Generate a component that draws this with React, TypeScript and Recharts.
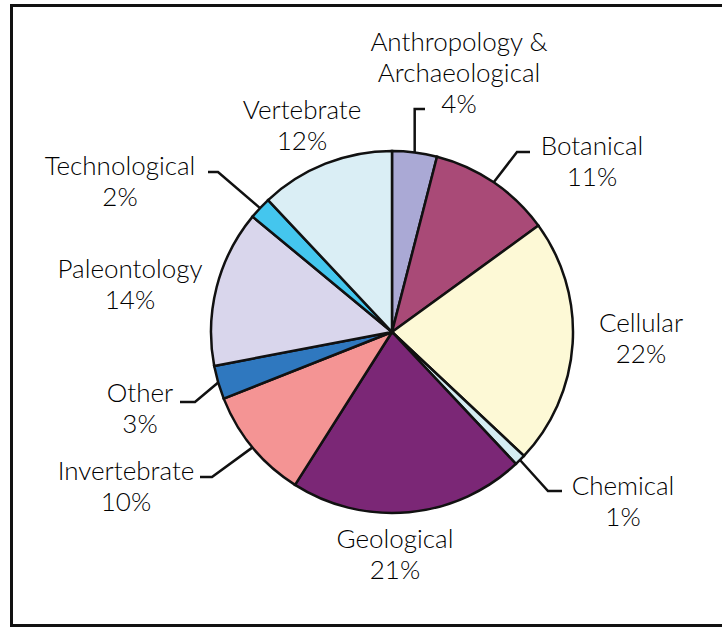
import React from 'react';
import { PieChart, Pie, Cell } from 'recharts';

// slice order runs clockwise from 12 o'clock
const categories = [
  'Anthropology & Archaeological',
  'Botanical',
  'Cellular',
  'Chemical',
  'Geological',
  'Invertebrate',
  'Other',
  'Paleontology',
  'Technological',
  'Vertebrate',
];
const shares = [4, 11, 22, 1, 21, 10, 3, 14, 2, 12];
const labelLines = [
  ['Anthropology &', 'Archaeological', '4%'],
  ['Botanical', '11%'],
  ['Cellular', '22%'],
  ['Chemical', '1%'],
  ['Geological', '21%'],
  ['Invertebrate', '10%'],
  ['Other', '3%'],
  ['Paleontology', '14%'],
  ['Technological', '2%'],
  ['Vertebrate', '12%'],
];
const colors = [
  '#aaa9d5',
  '#a94a77',
  '#fdf9d6',
  '#d4ecf2',
  '#7b2776',
  '#f49494',
  '#2f78bf',
  '#d9d6ec',
  '#44c6ee',
  '#daeef5',
];

const data = categories.map((name, i) => ({ name, value: shares[i] }));

// label placement relative to pie centre: text centre x / first baseline y,
// optional leader (elbow + end). elbow x null = straight up from the arc.
type Layout = {
  tx: number;
  ty: number;
  leader?: { ex: number | null; ey: number; hx: number };
};
const labelLayout: Layout[] = [
  { tx: 67, ty: -281, leader: { ex: null, ey: -223, hx: 33 } },
  { tx: 200, ty: -177, leader: { ex: 125, ey: -180, hx: 138 } },
  { tx: 249, ty: 0 },
  { tx: 231, ty: 163, leader: { ex: 156, ey: 159, hx: 170 } },
  { tx: 3, ty: 216 },
  { tx: -266, ty: 148, leader: { ex: -180, ey: 145, hx: -192 } },
  { tx: -252, ty: 70, leader: { ex: -197, ey: 70, hx: -212 } },
  { tx: -262, ty: -54 },
  { tx: -272, ty: -157, leader: { ex: -174, ey: -160, hx: -184 } },
  { tx: -90, ty: -213 },
];

const RAD = Math.PI / 180;
const FONT = 'Lato, "Open Sans", sans-serif';

const renderLabel = (props: any) => {
  const { cx, cy, midAngle, outerRadius, index } = props;
  const lay = labelLayout[index];
  const lines = labelLines[index];
  let leader = null;
  if (lay.leader) {
    const sx = cx + outerRadius * Math.cos(-midAngle * RAD);
    const sy = cy + outerRadius * Math.sin(-midAngle * RAD);
    const ex = lay.leader.ex === null ? sx : cx + lay.leader.ex;
    const ey = cy + lay.leader.ey;
    const hx = cx + lay.leader.hx;
    leader = (
      <polyline
        points={`${sx},${sy} ${ex},${ey} ${hx},${ey}`}
        fill="none"
        stroke="#111"
        strokeWidth={2.5}
      />
    );
  }
  return (
    <g key={`lbl-${index}`}>
      {leader}
      <text
        x={cx + lay.tx}
        y={cy + lay.ty}
        textAnchor="middle"
        fontFamily={FONT}
        fontWeight={300}
        fontSize={26}
        fill="#000"
      >
        {lines.map((ln, j) => (
          <tspan key={j} x={cx + lay.tx} dy={j === 0 ? 0 : 31}>
            {ln}
          </tspan>
        ))}
      </text>
    </g>
  );
};

export default function App() {
  return (
    <div
      style={{
        position: 'fixed',
        left: 0,
        top: 0,
        width: 722,
        height: 630,
        overflow: 'hidden',
        background: '#fff',
      }}
    >
      <div
        style={{
          position: 'absolute',
          left: 10,
          top: 4,
          width: 800,
          height: 623,
          boxSizing: 'border-box',
          border: '3px solid #111',
        }}
      />
      <div style={{ position: 'absolute', left: 0, top: 0 }}>
        <PieChart
          width={722}
          height={630}
          margin={{ top: 0, right: 0, bottom: 0, left: 0 }}
        >
          <Pie
            data={data}
            dataKey="value"
            nameKey="name"
            cx={392}
            cy={332}
            outerRadius={181}
            startAngle={90}
            endAngle={-270}
            stroke="#111"
            strokeWidth={2.5}
            label={renderLabel}
            labelLine={false}
            isAnimationActive={false}
          >
            {data.map((d, i) => (
              <Cell key={d.name} fill={colors[i]} />
            ))}
          </Pie>
        </PieChart>
      </div>
    </div>
  );
}
